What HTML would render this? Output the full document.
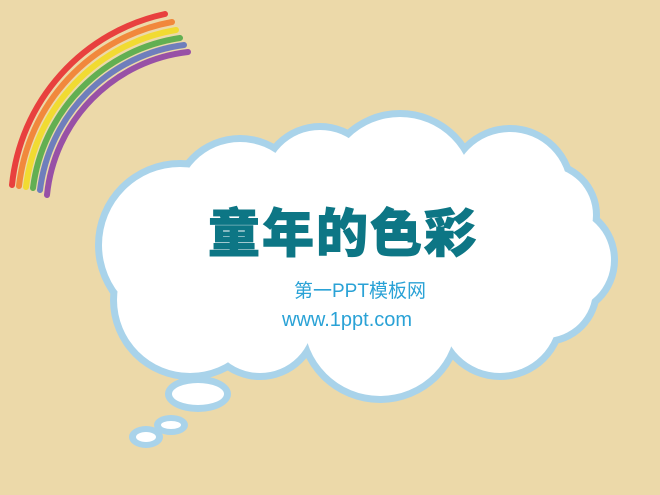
<!DOCTYPE html>
<html><head><meta charset="utf-8">
<style>
html,body{margin:0;padding:0}
body{width:660px;height:495px;overflow:hidden;background:#ecd9a9;position:relative;font-family:"Liberation Sans","Noto Sans CJK SC",sans-serif}
svg{position:absolute;left:0;top:0}
.t{position:absolute;white-space:nowrap}
</style></head>
<body>
<svg width="660" height="495">
 <g fill="none" stroke-width="6" stroke-linecap="round" opacity="0.85">
  <path d="M12,185 A195,195 0 0 1 165,14" stroke="#e8262c"/>
  <path d="M19,186 A188,188 0 0 1 172,22" stroke="#f27a2a"/>
  <path d="M26,187 A181,181 0 0 1 176,30" stroke="#f3dc1e"/>
  <path d="M33,188 A174,174 0 0 1 180,38" stroke="#4aa843"/>
  <path d="M40,190 A167,167 0 0 1 184,45" stroke="#5a6fc0"/>
  <path d="M47,195 A160,160 0 0 1 188,52" stroke="#8a3aa6"/>
 </g>
 <g>
  <g fill="#a9d3ea">
   <circle cx="240" cy="205" r="70"/><circle cx="320" cy="185" r="62"/><circle cx="400" cy="190" r="80"/>
   <circle cx="510" cy="190" r="65"/><circle cx="545" cy="215" r="55"/>
   <circle cx="560" cy="260" r="58"/><circle cx="180" cy="245" r="85"/>
   <circle cx="190" cy="300" r="80"/><circle cx="260" cy="320" r="60"/>
   <circle cx="380" cy="320" r="83"/><circle cx="500" cy="315" r="65"/>
   <circle cx="545" cy="290" r="55"/>
   <ellipse cx="198" cy="394" rx="33" ry="18"/>
   <ellipse cx="171" cy="425" rx="17" ry="10"/>
   <ellipse cx="146" cy="437" rx="17" ry="11"/>
  </g>
  <g fill="#ffffff">
   <circle cx="240" cy="205" r="63"/><circle cx="320" cy="185" r="55"/><circle cx="400" cy="190" r="73"/>
   <circle cx="510" cy="190" r="58"/><circle cx="545" cy="215" r="48"/>
   <circle cx="560" cy="260" r="51"/><circle cx="180" cy="245" r="78"/>
   <circle cx="190" cy="300" r="73"/><circle cx="260" cy="320" r="53"/>
   <circle cx="380" cy="320" r="76"/><circle cx="500" cy="315" r="58"/>
   <circle cx="545" cy="290" r="48"/>
   <rect x="230" y="215" width="290" height="100"/>
   <ellipse cx="198" cy="394" rx="26" ry="11"/>
   <ellipse cx="171" cy="425" rx="10" ry="4"/>
   <ellipse cx="146" cy="437" rx="10" ry="5"/>
  </g>
 </g>
</svg>
<div class="t" style="left:208px;top:192px;font-size:52px;font-weight:900;color:#0d7685;letter-spacing:2px;-webkit-text-stroke:1px #0d7685">童年的色彩</div>
<div class="t" style="left:294px;top:276px;font-size:19px;color:#2aa2d6">第一PPT模板网</div>
<div class="t" style="left:282px;top:309px;font-size:20px;color:#2aa2d6">www.1ppt.com</div>
</body></html>
